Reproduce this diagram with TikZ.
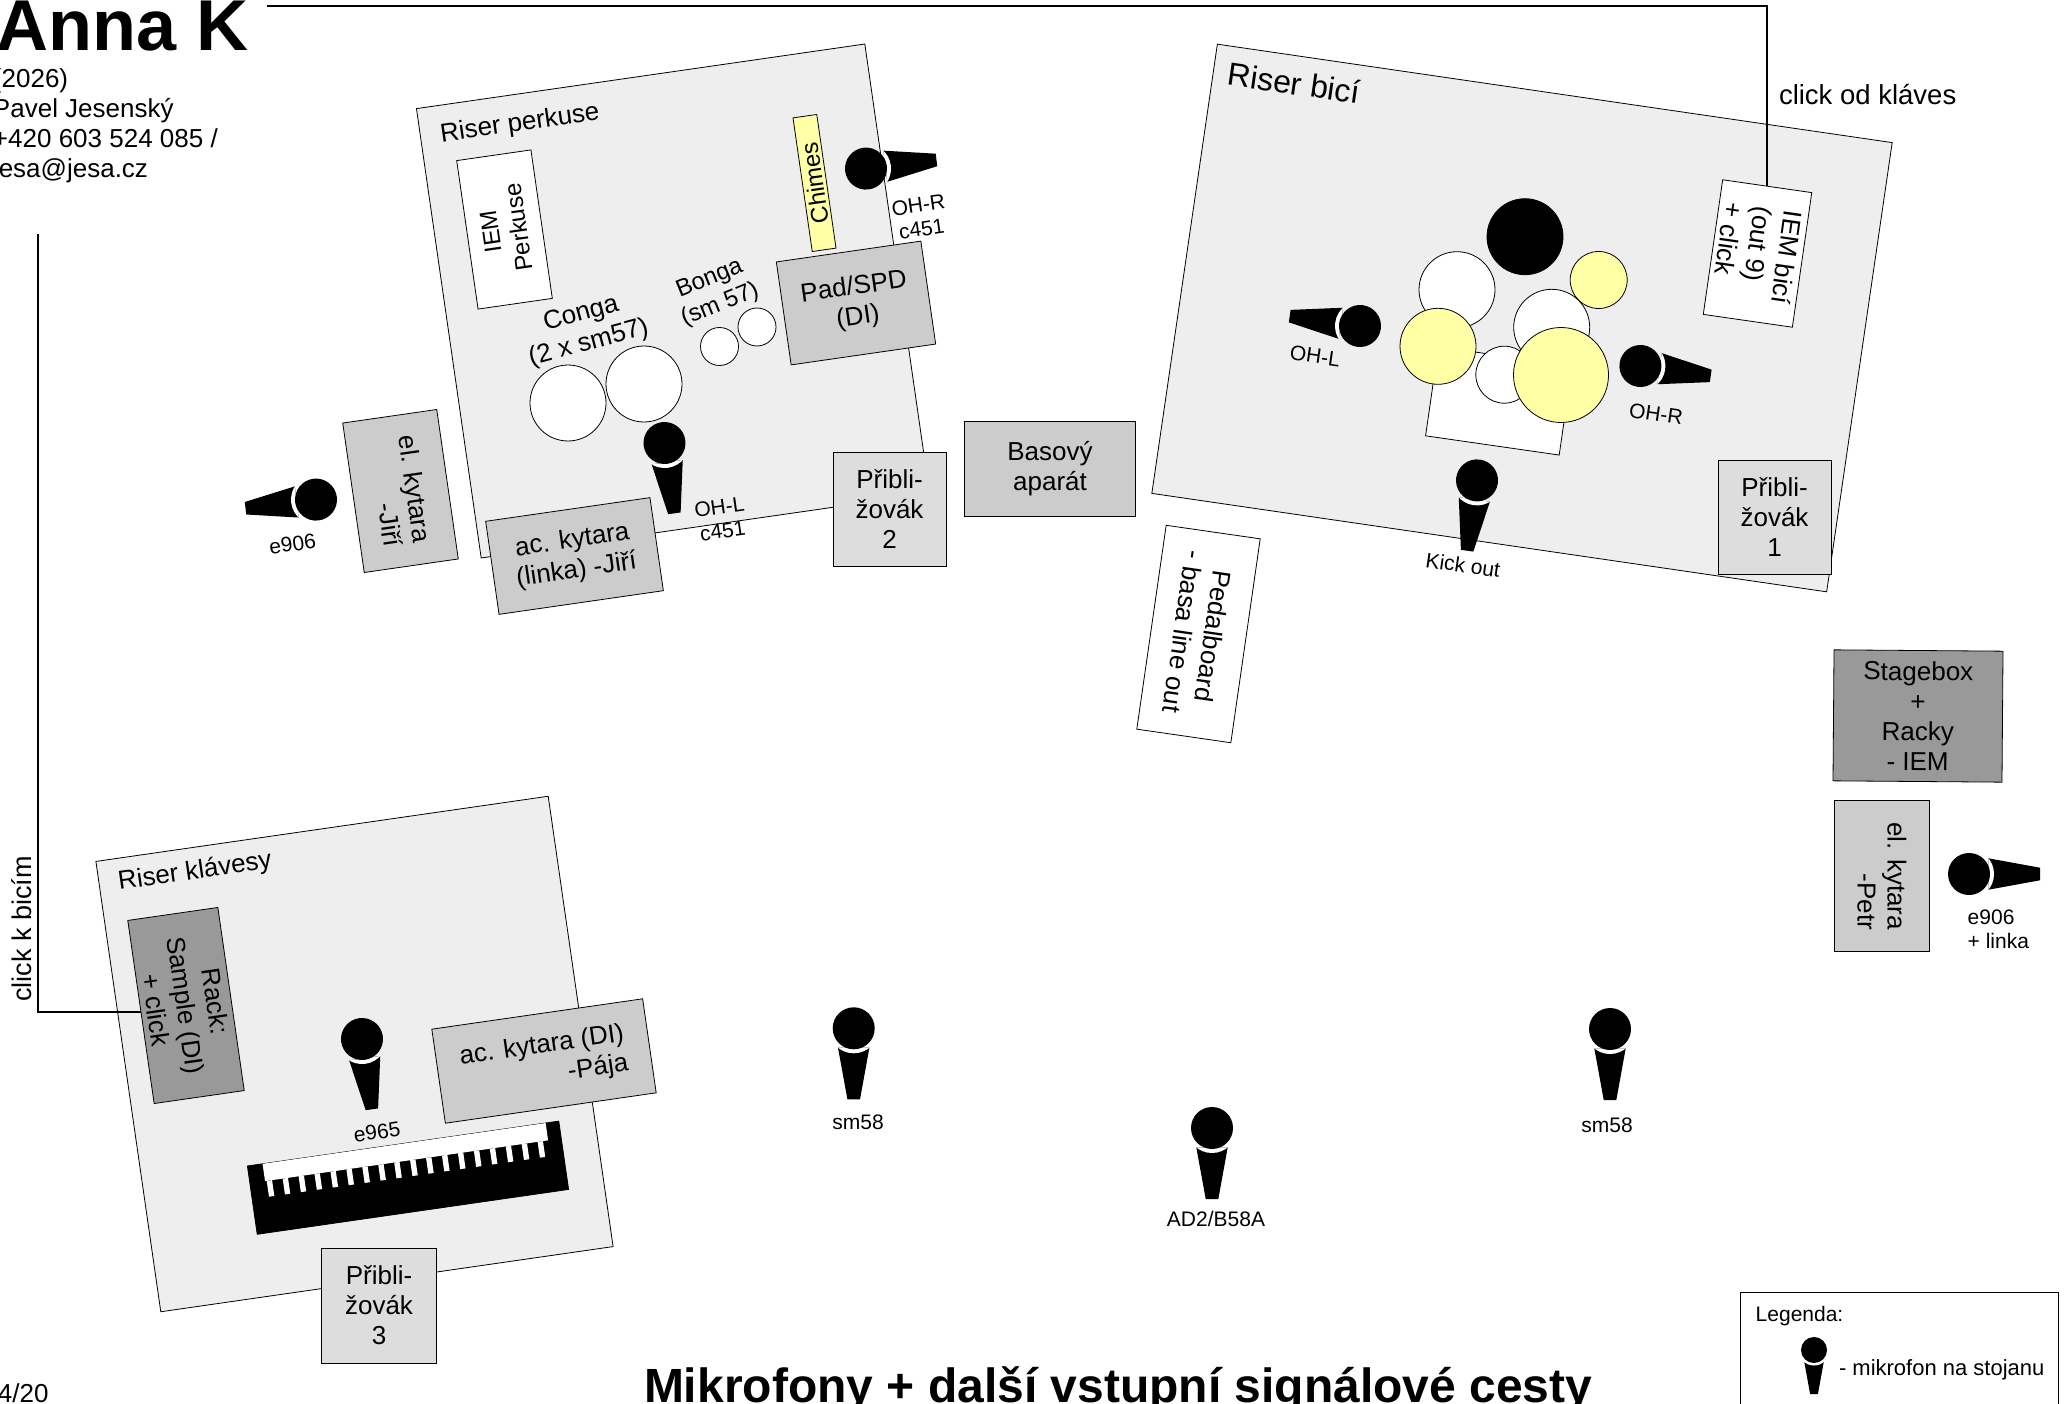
\documentclass[tikz,border=0pt]{standalone}
\usepackage{fontspec}
\setmainfont{Liberation Sans}
\definecolor{risergray}{HTML}{EEEEEE}
\definecolor{ampgray}{HTML}{CCCCCC}
\definecolor{wedgegray}{HTML}{DDDDDD}
\definecolor{rackgray}{HTML}{999999}
\definecolor{cymbalyellow}{HTML}{FFFFA6}
\begin{document}
\begin{tikzpicture}[x=1pt,y=-1pt]
  \tikzstyle{label}=[inner sep=0pt,outer sep=0pt,align=center,font=\fontsize{26}{30}\selectfont]
  \tikzstyle{small}=[label,font=\fontsize{21}{24}\selectfont]
  \tikzstyle{riser}=[label,draw=black,line width=0.8pt,fill=risergray]
  \tikzstyle{iem}=[riser,fill=white]
  \tikzstyle{amp}=[riser,fill=ampgray]
  \tikzstyle{wedge}=[riser,fill=wedgegray,minimum width=113,minimum height=114]
  \tikzstyle{rack}=[riser,fill=rackgray]
  \tikzstyle{drum}=[circle,draw=black,line width=0.8pt,fill=white,inner sep=0pt,outer sep=0pt]
  \tikzstyle{cymbal}=[drum,fill=cymbalyellow]
  \tikzstyle{connection}=[color=black,line width=2pt]
  \tikzset{micstand/.pic={
    \fill[black] (-15.7,19.4) -- (-6.3,71) -- (6.3,71) -- (15.7,19.4) -- cycle;
    \begin{scope}
      \clip (-15.7,19.4) -- (-6.3,71) -- (6.3,71) -- (15.7,19.4) -- cycle;
      \fill[white] (0,0) circle[radius=25];
    \end{scope}
    \fill[black] (0,0) circle[radius=21];
  }}

  \useasboundingbox (0,0) rectangle (2066,1404);
  \clip (0,0) rectangle (2066,1404);

  % risers
  \node[riser,rotate=8.2,minimum width=453,minimum height=454] (riserperk) at (673,301) {};
  \node[riser,rotate=-8.3,minimum width=682,minimum height=454] (riserbici) at (1522,318) {};
  \node[riser,rotate=8.2,minimum width=457,minimum height=455] (riserklav) at (354.5,1054) {};
  \node[label,rotate=8.2] (riserperktext) at (520,124) {Riser perkuse};
  \node[label,rotate=-8.2,font=\fontsize{32}{36}\selectfont] (riserbicitext) at (1294,83) {Riser bicí};
  \node[label,rotate=8.2] (riserklavtext) at (195,872) {Riser klávesy};

  % header
  \node[label,anchor=base west,font=\fontsize{72}{80}\bfseries\selectfont] (name) at (-3,51) {Anna K};
  \node[label,anchor=west,align=left] (contact) at (-7,126) {(2026)\\Pavel Jesenský\\+420 603 524 085 /\\jesa@jesa.cz};
  \node[label,anchor=west] (page) at (-2,1393) {4/20};
  \node[label,anchor=base west,font=\fontsize{48}{54}\bfseries\selectfont] (title) at (644,1402) {Mikrofony + další vstupní signálové cesty};

  % percussion
  \node[iem,rotate=98.2,minimum width=150,minimum height=75,font=\fontsize{24}{28}\selectfont] (iemperk) at (504.5,229.5) {IEM\\Perkuse};
  \node[iem,rotate=98.2,minimum width=135,minimum height=24,fill=cymbalyellow,font=\fontsize{24}{28}\selectfont] (chimes) at (814.5,183) {Chimes};
  \node[amp,rotate=8.2,minimum width=146,minimum height=104] (pad) at (856,303) {Pad/SPD\\(DI)};
  \node[drum,minimum size=76] (conga1) at (568,403) {};
  \node[drum,minimum size=76] (conga2) at (644,384) {};
  \node[drum,minimum size=38] (bonga1) at (719.5,346.5) {};
  \node[drum,minimum size=38] (bonga2) at (757,327) {};
  \node[label,rotate=15] (congatext) at (585,329) {Conga\\(2 x sm57)};
  \node[label,rotate=22,font=\fontsize{24}{28}\selectfont] (bongatext) at (715,292) {Bonga\\(sm 57)};
  \node[amp,rotate=-81.8,minimum width=151,minimum height=95,align=right] (elkytaraj) at (400.5,491) {el. kytara\\-Jiří};
  \node[amp,rotate=8.2,minimum width=166,minimum height=94] (ackytaraj) at (574.5,556) {ac. kytara\\(linka) -Jiří};
  \node[wedge] (wedge2) at (889.5,509) {Přibli-\\žovák\\2};
  \node[amp,minimum width=171,minimum height=95] (bass) at (1050,469) {Basový\\aparát};
  \node[iem,rotate=-98.2,minimum width=206,minimum height=95] (pedal) at (1198.5,634) {Pedalboard\\- basa line out};

  % drums
  \node[iem,rotate=-8.2,minimum width=135,minimum height=90] (drumrug) at (1498.8,400.9) {};
  \node[drum,minimum size=76] (tom1) at (1457,289.7) {};
  \node[drum,minimum size=76] (tom2) at (1551.7,327.3) {};
  \node[drum,minimum size=57] (snare) at (1504.3,374.7) {};
  \node[cymbal,minimum size=57] (splash) at (1598.7,280) {};
  \node[cymbal,minimum size=76] (hihat) at (1438,346.3) {};
  \node[cymbal,minimum size=95] (ride) at (1561,375) {};
  \node[drum,minimum size=76,fill=black] (kick) at (1525,236.7) {};
  \node[iem,rotate=-98.2,minimum width=136,minimum height=90,align=left] (iembici) at (1757.5,253.5) {IEM bicí\\(out 9)\\+ click};
  \node[wedge] (wedge1) at (1774.5,517) {Přibli-\\žovák\\1};

  % keys
  \node[riser,rotate=8.2,minimum width=286,minimum height=1] (keysdummy) at (408,1177.7) {};
  \node[rack,rotate=-81.8,minimum width=185,minimum height=91] (rackklav) at (186,1005.5) {Rack:\\Sample (DI)\\+ click};
  \node[amp,rotate=8.2,minimum width=213,minimum height=95,align=right] (ackytarap) at (544,1061) {ac. kytara (DI)\\-Pája};
  \node[riser,rotate=8.2,fill=black,minimum width=314.6,minimum height=69] (keybody) at (408,1177.7) {};
  \begin{scope}[shift={(408,1177.7)},rotate=8.2]
    \fill[white] (-142,-34.5) rectangle (144,-17);
    \foreach \k in {0,...,17}
      \fill[white] ({-137.6+16.1*\k-2.7},-17) rectangle ({-137.6+16.1*\k+2.7},-1);
  \end{scope}
  \node[wedge,minimum width=115,minimum height=115] (wedge3) at (379,1305.5) {Přibli-\\žovák\\3};

  % stage right
  \node[rack,rotate=-0.45,minimum width=169,minimum height=131] (stagebox) at (1918,716) {Stagebox\\+\\Racky\\- IEM\hspace{10pt}};
  \node[amp,rotate=-90,minimum width=151,minimum height=95,align=right] (elkytarap) at (1882,876) {el. kytara\\-Petr};

  % click lines
  \coordinate (clicktop) at (267,6);
  \coordinate (clickleft) at (38,234);
  \draw[connection] (clicktop) -| (iembici.west);
  \draw[connection] (clickleft) |- (rackklav.south);
  \node[label,anchor=west,font=\fontsize{27.5}{32}\selectfont] (clickod) at (1779,95) {click od kláves};
  \node[label,rotate=90,font=\fontsize{27}{32}\selectfont] (clickk) at (22,929) {click k bicím};

  % mics
  \pic[rotate=97] at (866,168.6) {micstand};
  \pic[rotate=8] at (664.5,443) {micstand};
  \pic[rotate=-83] at (316,499.6) {micstand};
  \pic[rotate=262] at (1360,326) {micstand};
  \pic[rotate=82] at (1640.4,366) {micstand};
  \pic[rotate=-8] at (1477,480.4) {micstand};
  \pic[rotate=90] at (1969,874) {micstand};
  \pic[rotate=8] at (362,1039) {micstand};
  \pic at (853.7,1028.3) {micstand};
  \pic at (1610,1029) {micstand};
  \pic at (1212,1128) {micstand};

  \node[small,rotate=8.2] (ohrperk) at (920,217) {OH-R\\c451};
  \node[small,rotate=8.2] (ohlperk) at (721,519) {OH-L\\c451};
  \node[small,rotate=8.2] (e906j) at (292.5,544) {e906};
  \node[small,rotate=-8.2] (ohlbici) at (1315,356) {OH-L};
  \node[small,rotate=-8.2] (ohrbici) at (1656,414) {OH-R};
  \node[small,rotate=-8.2] (kicktext) at (1463,565) {Kick out};
  \node[small,anchor=west,align=left] (e906p) at (1967.7,929) {e906\\+ linka};
  \node[small,rotate=8.2] (e965) at (377,1132) {e965};
  \node[small] (sm58l) at (858,1122.6) {sm58};
  \node[small] (sm58r) at (1607,1125) {sm58};
  \node[small] (ad2) at (1216,1219) {AD2/B58A};

  % legend
  \node[iem,minimum width=318,minimum height=128] (legend) at (1899,1356) {};
  \node[small,anchor=west] (legendtitle) at (1755.7,1316) {Legenda:};
  \pic[scale=0.62] at (1814,1350) {micstand};
  \node[small,anchor=west,font=\fontsize{22}{25}\selectfont] (legendmic) at (1839,1370) {- mikrofon na stojanu};
\end{tikzpicture}
\end{document}
